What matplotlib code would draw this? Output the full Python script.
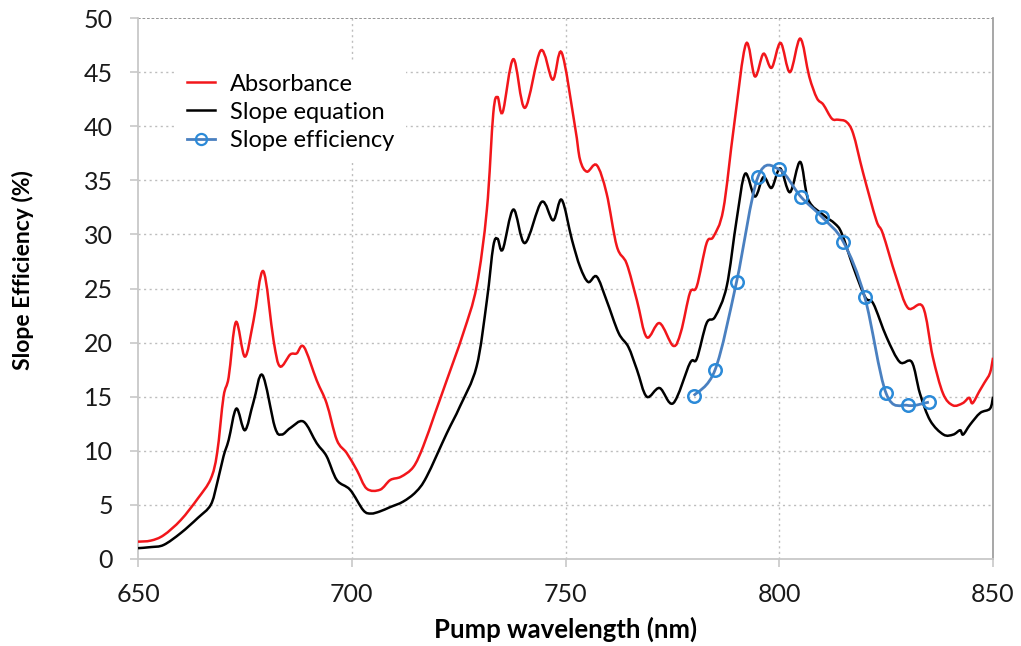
import numpy as np
import matplotlib
matplotlib.use("Agg")
import matplotlib.pyplot as plt
from matplotlib.path import Path
from matplotlib.patches import PathPatch
from matplotlib.lines import Line2D

plt.rcParams['font.family'] = ['Lato', 'DejaVu Sans']

# absorbance curve (red)
abs_nm = [650, 653, 656, 660, 664, 667, 668.5, 670, 671.2, 672.9, 675, 677, 679.3, 681.7,
          683.2, 685.6, 687.1, 688.8, 691.8, 694.1, 696.5, 698.8, 701.2, 703.5, 706.6, 709,
          711.5, 714.4, 716.7, 719.5, 722.2, 726.1, 729.2, 731.6, 733.1, 734.1, 735.3, 737.8,
          740.5, 744.2, 747, 749.1, 752.2, 753.4, 755, 757.3, 759.6, 762, 764.3, 766.7, 769,
          772, 775.2, 777, 779.1, 780.7, 783, 784.6, 786.9, 789.4, 792.2, 794.3, 796.3, 798.2,
          800.3, 802.5, 804.9, 807, 808.8, 810.3, 812.3, 813.8, 815.7, 817.3, 819.6, 822.7,
          824.2, 827.3, 830.1, 833.6, 835.9, 838.3, 840.6, 842.9, 844.4, 845.2, 846.8, 848,
          849.3, 850]
abs_val = [1.6, 1.7, 2.2, 3.6, 5.6, 7.4, 9.8, 15.0, 16.8, 21.9, 18.7, 22.0, 26.6, 20.2,
           17.8, 18.9, 19.0, 19.6, 16.5, 14.4, 11.0, 9.8, 8.2, 6.5, 6.4, 7.3,
           7.6, 8.5, 10.4, 13.5, 16.5, 20.9, 25.2, 32.3, 41.2, 42.7, 41.3, 46.2,
           41.7, 47.0, 44.3, 46.8, 40.0, 36.9, 35.8, 36.4, 33.8, 28.9, 27.3, 23.9, 20.5,
           21.8, 19.7, 21.0, 24.6, 25.2, 29.2, 29.8, 32.3, 40.0, 47.6, 44.6, 46.7, 45.4,
           47.7, 45.0, 48.1, 44.6, 42.6, 42.0, 40.7, 40.6, 40.4, 39.3, 35.7, 31.3,
           30.1, 26.1, 23.2, 23.3, 18.7, 15.3, 14.2, 14.4, 14.9, 14.4, 15.5, 16.3,
           17.2, 18.6]

# slope equation curve (black)
eq_nm = [650, 653, 656, 660, 664, 667, 668.5, 670, 671.2, 673, 675, 677, 679.1, 682,
         683.6, 685.6, 688.7, 691.8, 694.1, 696.5, 699.6, 702.7, 704.5, 706.6, 709, 712,
         715, 717.5, 722.2, 725.3, 729.2, 731.6, 733.1, 734.1, 735.3, 737.8, 740.5, 744.4,
         747.1, 749.1, 751.5, 753.4, 755.3, 757.3, 759.6, 762.4, 764.7, 766.7, 769, 772,
         775.2, 779.1, 780.7, 783, 785, 787.7, 790, 792, 794.3, 796.3, 798.2, 800.2, 802.5,
         804.9, 806.8, 810.3, 813, 814.6, 817.3, 820.1, 822, 825.1, 828.2, 831, 832.9,
         835.3, 838.4, 840.7, 842.3, 843, 844.6, 847, 849.3, 850]
eq_val = [1.0, 1.1, 1.3, 2.4, 3.8, 5.0, 7.0, 9.5, 11.0, 13.9, 11.9, 14.5, 17.0, 12.2,
          11.5, 12.1, 12.7, 10.7, 9.5, 7.3, 6.4, 4.5, 4.2, 4.4, 4.8, 5.3,
          6.2, 7.6, 11.6, 14.1, 17.8, 23.9, 28.9, 29.6, 28.6, 32.3, 29.2, 33.0,
          31.3, 33.2, 29.5, 27.0, 25.6, 26.1, 23.9, 20.9, 19.6, 17.5, 15.0, 15.8,
          14.4, 18.1, 18.5, 21.8, 22.4, 25.2, 31.3, 35.6, 33.5, 35.3, 34.3, 36.1, 33.9,
          36.7, 33.2, 31.8, 31.0, 30.1, 27.0, 24.2, 23.6, 20.5, 18.2, 18.2, 15.3,
          12.8, 11.5, 11.5, 11.9, 11.5, 12.4, 13.5, 13.9, 15.0]

# measured slope efficiency (blue markers)
eff_nm = [780, 785, 790, 795, 800, 805, 810, 815, 820, 825, 830, 835]
eff_val = [15.1, 17.5, 25.6, 35.3, 36.0, 33.5, 31.6, 29.3, 24.2, 15.3, 14.2, 14.5]

red = '#F2161B'
blue_line = '#4A80C0'
blue_mark = '#2B8AD8'


def smooth_path(x, y, t=1 / 6):
    # Catmull-Rom style smoothing, drawn as cubic Bezier segments
    x = np.asarray(x, float)
    y = np.asarray(y, float)
    n = len(x)
    verts = [(x[0], y[0])]
    codes = [Path.MOVETO]
    for i in range(n - 1):
        p0 = i - 1 if i > 0 else i
        p3 = i + 2 if i + 2 < n else i + 1
        c1 = (x[i] + (x[i + 1] - x[p0]) * t, y[i] + (y[i + 1] - y[p0]) * t)
        c2 = (x[i + 1] - (x[p3] - x[i]) * t, y[i + 1] - (y[p3] - y[i]) * t)
        verts += [c1, c2, (x[i + 1], y[i + 1])]
        codes += [Path.CURVE4] * 3
    return Path(verts, codes)


fig = plt.figure(figsize=(10.21, 6.46), dpi=100)
ax = fig.add_axes([0.1352, 0.1347, 0.8374, 0.8374])

ax.add_patch(PathPatch(smooth_path(abs_nm, abs_val), fill=False, edgecolor=red, lw=1.8, zorder=3))
ax.add_patch(PathPatch(smooth_path(eq_nm, eq_val), fill=False, edgecolor='black', lw=1.8, zorder=3))
ax.add_patch(PathPatch(smooth_path(eff_nm, eff_val), fill=False, edgecolor=blue_line, lw=2.0, zorder=4))
ax.plot(eff_nm, eff_val, linestyle='none', marker='o', ms=9, mfc='none', mec=blue_mark, mew=1.8, zorder=5)

ax.set_xlim(650, 850)
ax.set_ylim(0, 50)
ax.set_xticks(np.arange(650, 851, 50))
ax.set_yticks(np.arange(0, 51, 5))

for v in range(5, 50, 5):
    ax.axhline(v, color='#BDBDBD', lw=1.0, ls=(0, (1.5, 2.5)), zorder=1)
for v in (700, 750, 800):
    ax.axvline(v, color='#BDBDBD', lw=1.0, ls=(0, (1.5, 2.5)), zorder=1)
ax.axhline(50, color='#8C8C8C', lw=1.3, ls=(0, (1.5, 1)), zorder=2)

for s in ('left', 'bottom', 'right'):
    ax.spines[s].set_color('#C8C8C8')
    ax.spines[s].set_linewidth(1.3)
ax.spines['right'].set_color('#A0A0A0')
ax.spines['top'].set_visible(False)
ax.tick_params(axis='both', colors='#C8C8C8', labelcolor='#1A1A1A', labelsize=18,
               length=6, width=1.2, direction='out')
ax.tick_params(axis='x', pad=11)
ax.tick_params(axis='y', pad=12)

ax.set_xlabel('Pump wavelength (nm)', fontsize=18.5, fontweight='bold', labelpad=8)
ax.set_ylabel('Slope Efficiency (%)', fontsize=16.5, fontweight='bold')
ax.yaxis.set_label_coords(-0.1216, 0.534)

handles = [Line2D([], [], color=red, lw=1.8),
           Line2D([], [], color='black', lw=1.8),
           Line2D([], [], color=blue_line, lw=2.0, marker='o', ms=8, mfc='none',
                  mec=blue_mark, mew=1.6)]
leg = ax.legend(handles, ['Absorbance', 'Slope equation', 'Slope efficiency'],
                loc='upper left', bbox_to_anchor=(0.043, 0.919), borderaxespad=0,
                frameon=True, fancybox=False, fontsize=17, handlelength=1.2,
                handletextpad=0.65, labelspacing=0.3, borderpad=0.5)
leg.get_frame().set_facecolor('white')
leg.get_frame().set_edgecolor('none')
leg.get_frame().set_alpha(1)
leg.set_zorder(6)

fig.savefig('out.png', dpi=100)
